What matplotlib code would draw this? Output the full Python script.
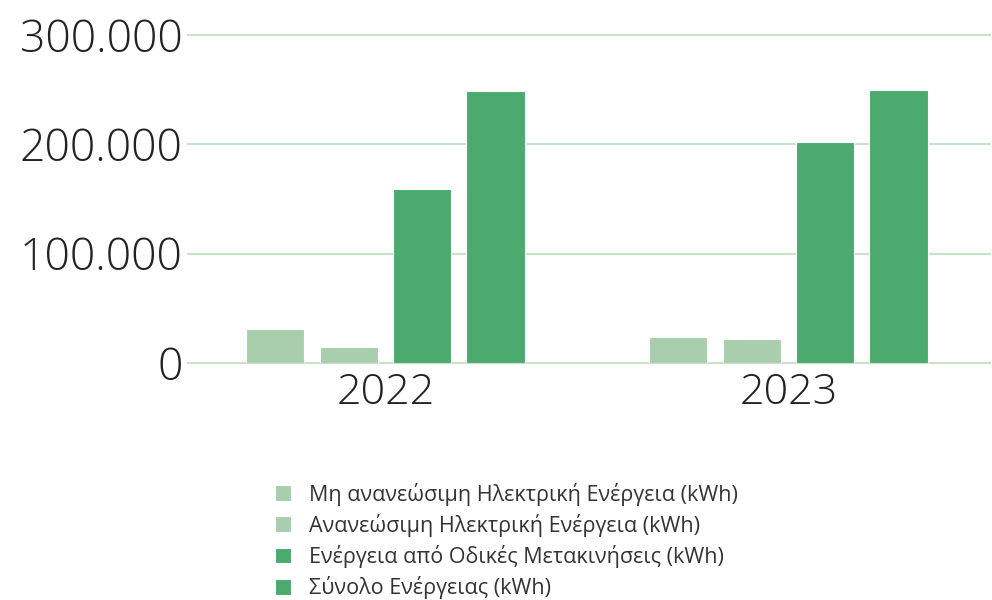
import matplotlib.pyplot as plt
import numpy as np

years = ['2022', '2023']
series_names = [
    'Μη ανανεώσιμη Ηλεκτρική Ενέργεια (kWh)',
    'Ανανεώσιμη Ηλεκτρική Ενέργεια (kWh)',
    'Ενέργεια από Οδικές Μετακινήσεις (kWh)',
    'Σύνολο Ενέργειας (kWh)',
]
non_renewable = [31100, 23800]
renewable = [14600, 22000]
road_transport = [159100, 202100]
total_energy = [248800, 249700]
colors = ['#a8cead', '#a8cead', '#4caa6f', '#4caa6f']
y_ticks = [0, 100000, 200000, 300000]
y_tick_labels = ['0', '100.000', '200.000', '300.000']

plt.rcParams['font.family'] = ['Open Sans', 'DejaVu Sans']

fig = plt.figure(figsize=(9.92, 6), dpi=100)
ax = fig.add_axes([188 / 992, 1 - 363 / 600, (990 - 188) / 992, 328 / 600])

x = np.arange(len(years))
width = 0.144
step = 0.182
all_values = [non_renewable, renewable, road_transport, total_energy]
for i, (vals, name, c) in enumerate(zip(all_values, series_names, colors)):
    ax.bar(x + (i - 1.5) * step, vals, width, color=c, label=name,
           edgecolor='white', linewidth=0.8, zorder=3)

ax.set_xlim(-0.49, 1.5)
ax.set_ylim(0, 300000)
ax.set_yticks(y_ticks)
ax.set_yticklabels(y_tick_labels, fontsize=32, fontweight='light', color='#222222')
ax.set_xticks(x)
ax.set_xticklabels(years, fontsize=31, fontweight='light', color='#222222')
ax.tick_params(axis='both', length=0)
ax.tick_params(axis='y', pad=4)
ax.tick_params(axis='x', pad=6)
ax.grid(axis='y', color='#c8e2c9', linewidth=1.5, zorder=0)
for line in ax.get_ygridlines():
    line.set_clip_on(False)
for s in ax.spines.values():
    s.set_visible(False)

leg = fig.legend(loc='upper left', bbox_to_anchor=(266 / 992, 1 - 474 / 600),
                 frameon=False, fontsize=15.5, handlelength=0.75, handleheight=0.75,
                 handletextpad=0.85, labelspacing=0.38, borderaxespad=0)
for t in leg.get_texts():
    t.set_color('#333333')

fig.savefig('out.png', dpi=100)
